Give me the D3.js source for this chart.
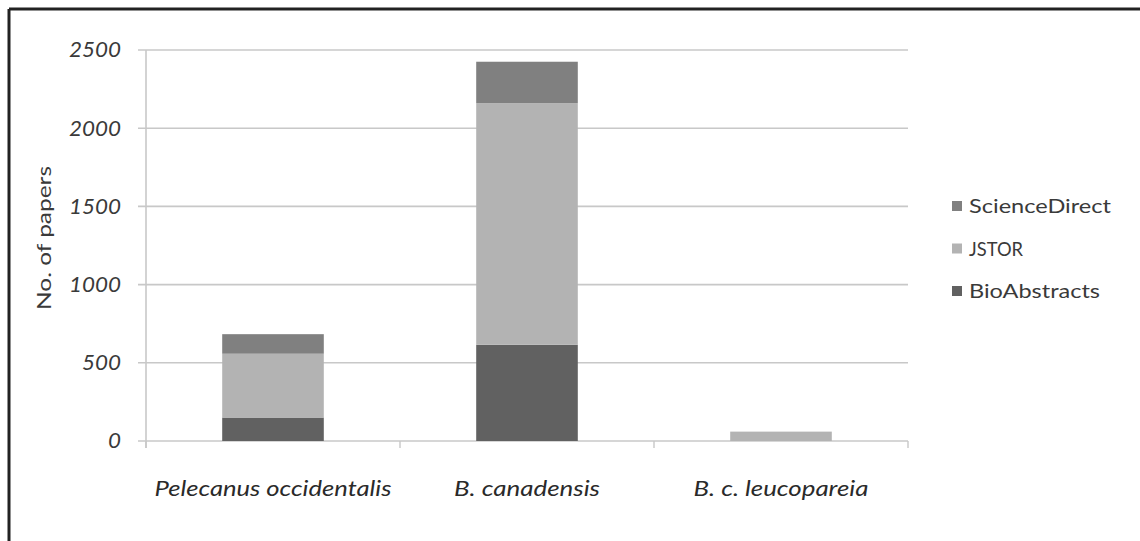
<!DOCTYPE html>
<html><head><meta charset="utf-8">
<script src="https://cdn.jsdelivr.net/npm/d3@7"></script>
<style>body{margin:0;background:#fff}svg{display:block}</style>
</head><body><svg id="c" width="1140" height="541"></svg>
<script>
const categories = ["Pelecanus occidentalis", "B. canadensis", "B. c. leucopareia"];
const seriesNames = ["BioAbstracts", "JSTOR", "ScienceDirect"];
const bioAbstracts = [150, 615, 0];
const jstor = [408, 1545, 60];
const scienceDirect = [125, 265, 0];
const yTicks = [0, 500, 1000, 1500, 2000, 2500];
const colors = {BioAbstracts: "#616161", JSTOR: "#b3b3b3", ScienceDirect: "#808080"};

const svg = d3.select("#c");
const font = "Lato, 'Open Sans', sans-serif";
// frame (top and left only visible)
svg.append("line").attr("x1", 9).attr("x2", 1140).attr("y1", 9).attr("y2", 9).attr("stroke", "#222").attr("stroke-width", 3);
svg.append("line").attr("x1", 9).attr("x2", 9).attr("y1", 9).attr("y2", 541).attr("stroke", "#222").attr("stroke-width", 3);

const x = d3.scaleBand().domain(categories).range([146, 908]).paddingInner(0.6).paddingOuter(0.3);
const xb = d3.scaleBand().domain(categories).range([146, 908]);
const y = d3.scaleLinear().domain([0, 2500]).range([441, 50]);

// gridlines
svg.append("g").selectAll("line").data(yTicks).join("line")
  .attr("x1", 138).attr("x2", 908).attr("y1", d => y(d)).attr("y2", d => y(d))
  .attr("stroke", "#c8c8c8").attr("stroke-width", 1.6);
// y axis line
svg.append("line").attr("x1", 146).attr("x2", 146).attr("y1", y(2500)).attr("y2", 448).attr("stroke", "#c8c8c8").attr("stroke-width", 1.6);
// x category ticks
const bounds = categories.map(c => xb(c)).concat([908]);
svg.append("g").selectAll("line").data(bounds).join("line")
  .attr("x1", d => d).attr("x2", d => d).attr("y1", 441).attr("y2", 448)
  .attr("stroke", "#c8c8c8").attr("stroke-width", 1.4);

// stacked bars
const rows = categories.map((c, i) => ({cat: c, BioAbstracts: bioAbstracts[i], JSTOR: jstor[i], ScienceDirect: scienceDirect[i]}));
const stack = d3.stack().keys(seriesNames)(rows);
svg.append("g").selectAll("g").data(stack).join("g").attr("fill", d => colors[d.key])
  .selectAll("rect").data(d => d).join("rect")
  .attr("x", d => x(d.data.cat)).attr("width", x.bandwidth())
  .attr("y", d => y(d[1])).attr("height", d => y(d[0]) - y(d[1]));

// y tick labels
svg.append("g").selectAll("text").data(yTicks).join("text")
  .attr("x", 121).attr("y", d => y(d)).attr("dy", "0.35em").attr("text-anchor", "end")
  .attr("textLength", d => String(d).length * 13).attr("lengthAdjust", "spacingAndGlyphs")
  .attr("font-family", font).attr("font-style", "italic").attr("font-size", 21).attr("fill", "#3a3a3a")
  .text(d => d);

// y axis title
svg.append("text").attr("transform", "translate(51,238) rotate(-90)")
  .attr("x", -72).attr("textLength", 144).attr("lengthAdjust", "spacingAndGlyphs")
  .attr("font-family", font).attr("font-size", 20).attr("fill", "#3a3a3a").text("No. of papers");

// x labels
const labelW = [237, 146, 175];
svg.append("g").selectAll("text").data(categories).join("text")
  .attr("x", (d, i) => xb(d) + xb.bandwidth() / 2 - labelW[i] / 2).attr("y", 496)
  .attr("textLength", (d, i) => labelW[i]).attr("lengthAdjust", "spacingAndGlyphs")
  .attr("font-family", font).attr("font-style", "italic").attr("font-size", 21).attr("fill", "#2a2a2a")
  .text(d => d);

// legend
const legendItems = ["ScienceDirect", "JSTOR", "BioAbstracts"];
const legendW = {ScienceDirect: 142, JSTOR: 54, BioAbstracts: 131};
const lg = svg.append("g").selectAll("g").data(legendItems).join("g")
  .attr("transform", (d, i) => `translate(952,${206 + i * 42.5})`);
lg.append("rect").attr("x", 0).attr("y", -5).attr("width", 10).attr("height", 10).attr("fill", d => colors[d]);
lg.append("text").attr("x", 17).attr("dy", "0.35em").attr("textLength", d => legendW[d]).attr("lengthAdjust", "spacingAndGlyphs")
  .attr("font-family", font).attr("font-size", 20).attr("fill", "#3a3a3a").text(d => d);
</script></body></html>
